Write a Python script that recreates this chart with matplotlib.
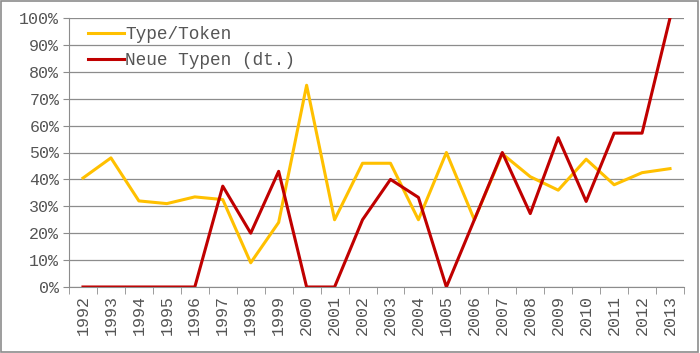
import matplotlib
matplotlib.use('Agg')
import matplotlib.pyplot as plt
from matplotlib.patches import Rectangle
from matplotlib.ticker import FixedLocator, PercentFormatter

years = ['1992', '1993', '1994', '1995', '1996', '1997', '1998', '1999', '2000', '2001', '2002',
         '2003', '2004', '1005', '2006', '2007', '2008', '2009', '2010', '2011', '2012', '2013']
type_token = [40.5, 48, 32, 31, 33.5, 32.5, 9, 24, 75, 25, 46,
              46, 25, 50, 25, 49.5, 41, 36, 47.5, 38, 42.5, 44]
neue_typen = [0, 0, 0, 0, 0, 37.5, 20, 43, 0, 0, 25,
              40, 33.3, 0, 25, 50, 27.3, 55.5, 31.8, 57.2, 57.2, 100]

plt.rcParams['font.family'] = ['Liberation Mono', 'DejaVu Sans Mono']
txt = '#555555'

fig = plt.figure(figsize=(7, 3.53), dpi=100)
ax = fig.add_axes([69 / 700, 1 - 287 / 353, 615 / 700, 269 / 353])

x = list(range(len(years)))
ax.plot(x, type_token, color='#FFC000', lw=2.2, label='Type/Token')
ax.plot(x, neue_typen, color='#C00000', lw=2.2, label='Neue Typen (dt.)')

ax.set_xlim(-0.5, len(years) - 0.5)
ax.set_ylim(0, 100)
ax.set_yticks(range(0, 101, 10))
ax.yaxis.set_major_formatter(PercentFormatter(decimals=0))
ax.grid(axis='y', color='#8c8c8c', lw=0.9)
ax.set_axisbelow(True)

ax.set_xticks(x)
ax.set_xticklabels(years, rotation=90)
ax.xaxis.set_minor_locator(FixedLocator([i - 0.5 for i in range(len(years) + 1)]))
ax.tick_params(axis='x', which='major', length=0, pad=6, labelsize=12, labelcolor=txt)
ax.tick_params(axis='x', which='minor', length=5, color='#8c8c8c')
ax.tick_params(axis='y', length=4, color='#8c8c8c', labelsize=12, labelcolor=txt, pad=3)

for s in ['top', 'right']:
    ax.spines[s].set_visible(False)
for s in ['left', 'bottom']:
    ax.spines[s].set_color('#8c8c8c')

leg = ax.legend(loc='upper left', frameon=False, fontsize=12.8, handlelength=2.0,
                handletextpad=0.1, bbox_to_anchor=(0.005, 1.03), labelspacing=0.5)
for t in leg.get_texts():
    t.set_color(txt)

fig.patches.append(Rectangle((0.002, 0.003), 0.995, 0.993, transform=fig.transFigure,
                             fill=False, edgecolor='#8c8c8c', lw=1.2))

plt.savefig('out.png', dpi=100)
